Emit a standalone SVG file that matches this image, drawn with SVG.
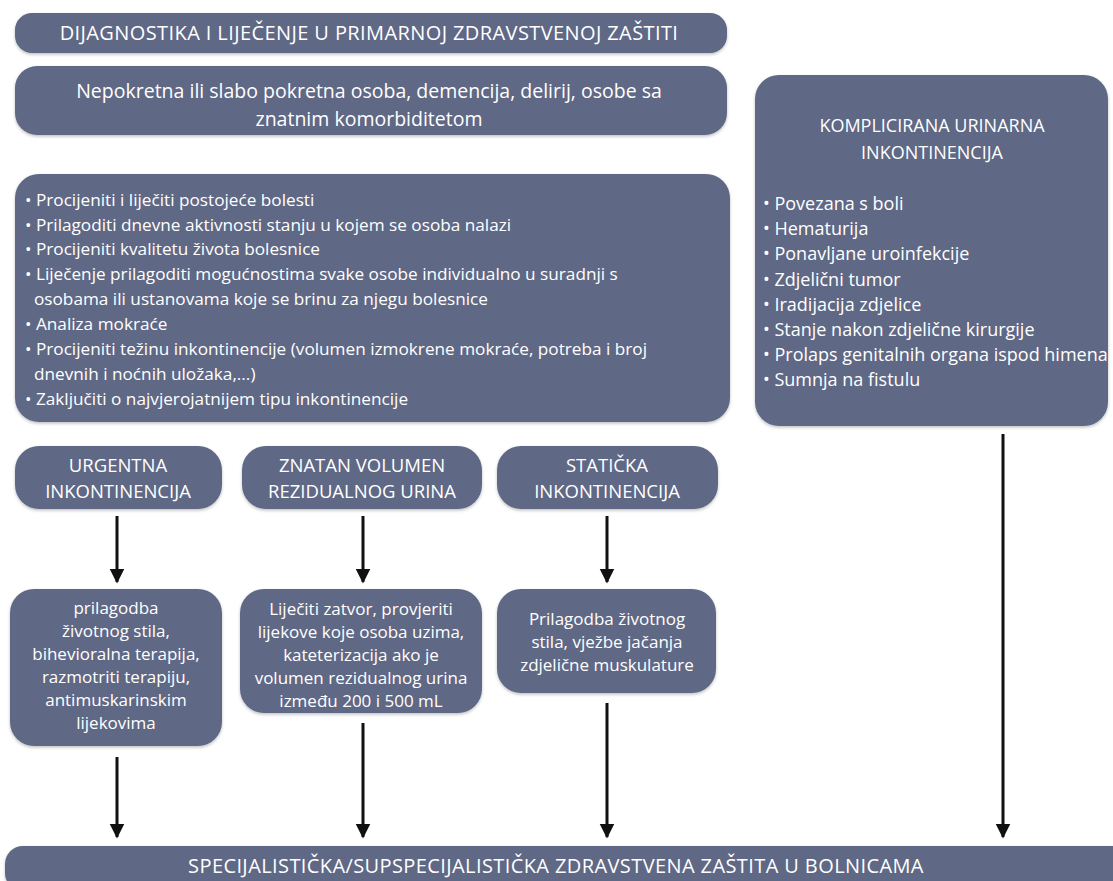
<svg xmlns="http://www.w3.org/2000/svg" width="1113" height="881" viewBox="0 0 1113 881">
<defs>
<style>
.box{fill:#5e6885;}
.t{fill:#ffffff;font-family:"Open Sans","Liberation Sans",sans-serif;}
.c{text-anchor:middle;}
.h{font-size:20px;letter-spacing:0.4px;}
.p{font-size:19.5px;}
.b{font-size:17.2px;}
.r{font-size:18px;}
.rt{font-size:18px;}
.s{font-size:18.5px;}
.m{font-size:17px;}
.conn line{stroke:#111111;stroke-width:3;}
</style>
<marker id="ah" viewBox="0 0 10 10" refX="9" refY="5" markerWidth="5" markerHeight="6.5" orient="auto" markerUnits="strokeWidth">
<path d="M0,0 L10,5 L0,10 z" fill="#111111"/>
</marker>
<filter id="sh" x="-5%" y="-5%" width="110%" height="115%">
<feDropShadow dx="0" dy="1.5" stdDeviation="1.5" flood-color="#000000" flood-opacity="0.25"/>
</filter>
</defs>
<rect width="1113" height="881" fill="#ffffff"/>

<g id="header">
<rect class="box" filter="url(#sh)" x="15" y="13" width="712" height="40" rx="17"/>
<text class="t c h" x="369" y="40">DIJAGNOSTIKA I LIJEČENJE U PRIMARNOJ ZDRAVSTVENOJ ZAŠTITI</text>
</g>

<g id="population">
<rect class="box" filter="url(#sh)" x="15" y="66" width="712" height="69" rx="22"/>
<text class="t c p" x="369" y="98">Nepokretna ili slabo pokretna osoba, demencija, delirij, osobe sa</text>
<text class="t c p" x="369" y="126">znatnim komorbiditetom</text>
</g>

<g id="assessment">
<rect class="box" filter="url(#sh)" x="15" y="174" width="715" height="248" rx="24"/>
<text class="t b" x="25" y="206">• Procijeniti i liječiti postojeće bolesti</text>
<text class="t b" x="25" y="231">• Prilagoditi dnevne aktivnosti stanju u kojem se osoba nalazi</text>
<text class="t b" x="25" y="255">• Procijeniti kvalitetu života bolesnice</text>
<text class="t b" x="25" y="280">• Liječenje prilagoditi mogućnostima svake osobe individualno u suradnji s</text>
<text class="t b" x="34" y="305">osobama ili ustanovama koje se brinu za njegu bolesnice</text>
<text class="t b" x="25" y="330">• Analiza mokraće</text>
<text class="t b" x="25" y="355">• Procijeniti težinu inkontinencije (volumen izmokrene mokraće, potreba i broj</text>
<text class="t b" x="34" y="380">dnevnih i noćnih uložaka,...)</text>
<text class="t b" x="25" y="405">• Zaključiti o najvjerojatnijem tipu inkontinencije</text>
</g>

<g id="complicated">
<rect class="box" filter="url(#sh)" x="755" y="75" width="353" height="351" rx="24"/>
<text class="t c rt" x="932" y="132">KOMPLICIRANA URINARNA</text>
<text class="t c rt" x="932" y="159">INKONTINENCIJA</text>
<text class="t r" x="763" y="210">• Povezana s boli</text>
<text class="t r" x="763" y="235">• Hematurija</text>
<text class="t r" x="763" y="260">• Ponavljane uroinfekcije</text>
<text class="t r" x="763" y="286">• Zdjelični tumor</text>
<text class="t r" x="763" y="311">• Iradijacija zdjelice</text>
<text class="t r" x="763" y="336">• Stanje nakon zdjelične kirurgije</text>
<text class="t r" x="763" y="361">• Prolaps genitalnih organa ispod himena</text>
<text class="t r" x="763" y="386">• Sumnja na fistulu</text>
</g>

<g id="urgent">
<rect class="box" filter="url(#sh)" x="15" y="446" width="207" height="63" rx="24"/>
<text class="t c s" x="118" y="472">URGENTNA</text>
<text class="t c s" x="118" y="498">INKONTINENCIJA</text>
</g>

<g id="residual">
<rect class="box" filter="url(#sh)" x="242" y="446" width="240" height="63" rx="24"/>
<text class="t c s" x="362" y="472">ZNATAN VOLUMEN</text>
<text class="t c s" x="362" y="498">REZIDUALNOG URINA</text>
</g>

<g id="stress">
<rect class="box" filter="url(#sh)" x="497" y="446" width="221" height="63" rx="24"/>
<text class="t c s" x="607" y="472">STATIČKA</text>
<text class="t c s" x="607" y="498">INKONTINENCIJA</text>
</g>

<g id="urgent-treatment">
<rect class="box" filter="url(#sh)" x="10" y="589" width="212" height="157" rx="24"/>
<text class="t c m" x="116" y="614">prilagodba</text>
<text class="t c m" x="116" y="637">životnog stila,</text>
<text class="t c m" x="116" y="660">bihevioralna terapija,</text>
<text class="t c m" x="116" y="683">razmotriti terapiju,</text>
<text class="t c m" x="116" y="706">antimuskarinskim</text>
<text class="t c m" x="116" y="729">lijekovima</text>
</g>

<g id="residual-treatment">
<rect class="box" filter="url(#sh)" x="240" y="589" width="242" height="124" rx="24"/>
<text class="t c m" x="361" y="615">Liječiti zatvor, provjeriti</text>
<text class="t c m" x="361" y="638">lijekove koje osoba uzima,</text>
<text class="t c m" x="361" y="661">kateterizacija ako je</text>
<text class="t c m" x="361" y="684">volumen rezidualnog urina</text>
<text class="t c m" x="361" y="707">između 200 i 500 mL</text>
</g>

<g id="stress-treatment">
<rect class="box" filter="url(#sh)" x="497" y="589" width="219" height="104" rx="24"/>
<text class="t c m" x="607" y="625">Prilagodba životnog</text>
<text class="t c m" x="607" y="648">stila, vježbe jačanja</text>
<text class="t c m" x="607" y="671">zdjelične muskulature</text>
</g>

<g id="specialist">
<rect class="box" filter="url(#sh)" x="5" y="846" width="1130" height="45" rx="18"/>
<text class="t c h" x="556" y="873">SPECIJALISTIČKA/SUPSPECIJALISTIČKA ZDRAVSTVENA ZAŠTITA U BOLNICAMA</text>
</g>

<g id="connectors" class="conn">
<line x1="117" y1="516" x2="117" y2="582" marker-end="url(#ah)"/>
<line x1="363" y1="516" x2="363" y2="582" marker-end="url(#ah)"/>
<line x1="607" y1="516" x2="607" y2="582" marker-end="url(#ah)"/>
<line x1="117" y1="757" x2="117" y2="837" marker-end="url(#ah)"/>
<line x1="363" y1="723" x2="363" y2="837" marker-end="url(#ah)"/>
<line x1="607" y1="703" x2="607" y2="837" marker-end="url(#ah)"/>
<line x1="1003" y1="434" x2="1003" y2="837" marker-end="url(#ah)"/>
</g>
</svg>
